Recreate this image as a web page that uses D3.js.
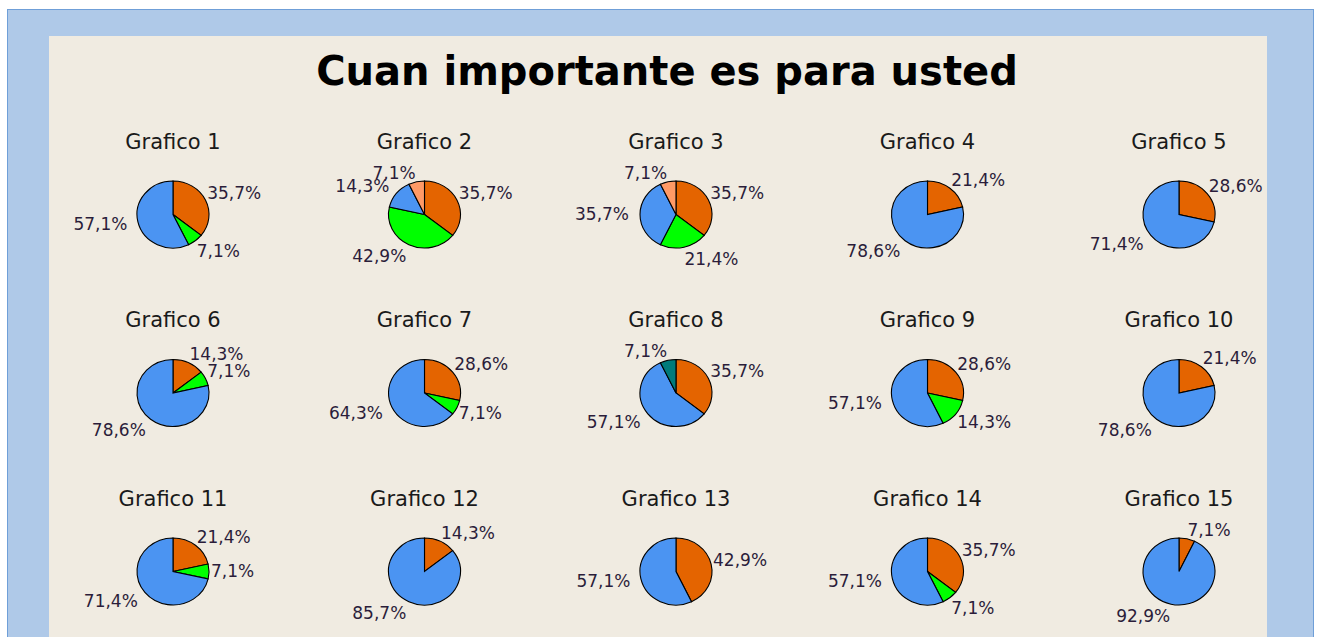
<!DOCTYPE html>
<html>
<head>
<meta charset="utf-8">
<title>Cuan importante es para usted</title>
<script src="https://d3js.org/d3.v7.min.js"></script>
<style>
  body { margin: 0; background: #fff; }
  svg { display: block; }
</style>
</head>
<body>
<svg class="chart"></svg>
<script>
// one entry per chart, values in % for each category
var titles = ["Grafico 1","Grafico 2","Grafico 3","Grafico 4","Grafico 5",
              "Grafico 6","Grafico 7","Grafico 8","Grafico 9","Grafico 10",
              "Grafico 11","Grafico 12","Grafico 13","Grafico 14","Grafico 15"];
var categories = ["A","B","C","D","E"];
var serieA = [35.7,35.7,35.7,21.4,28.6,14.3,28.6,35.7,28.6,21.4,21.4,14.3,42.9,35.7,7.1];
var serieB = [7.1,42.9,21.4,0,0,7.1,7.1,0,14.3,0,7.1,0,0,7.1,0];
var serieC = [57.1,14.3,35.7,78.6,71.4,78.6,64.3,57.1,57.1,78.6,71.4,85.7,57.1,57.1,92.9];
var serieD = [0,0,0,0,0,0,0,7.1,0,0,0,0,0,0,0];
var serieE = [0,7.1,7.1,0,0,0,0,0,0,0,0,0,0,0,0];
var mainTitle = "Cuan importante es para usted";

var W = 1319, H = 637;
var svg = d3.select(".chart").attr("width", W).attr("height", H);

// frame
svg.append("rect").attr("x", 7.5).attr("y", 9.5).attr("width", 1306).attr("height", 640)
  .attr("fill", "#afc9e8").attr("stroke", "#6f9fd8").attr("stroke-width", 1);
svg.append("rect").attr("x", 49).attr("y", 36).attr("width", 1218).attr("height", 620)
  .attr("fill", "#f0ebe1");

svg.append("text")
  .attr("x", 667).attr("y", 85)
  .attr("text-anchor", "middle")
  .style("font-family", "DejaVu Sans, sans-serif")
  .style("font-weight", "bold")
  .style("font-size", "40px")
  .attr("fill", "#000")
  .text(mainTitle);

var color = d3.scaleOrdinal()
  .domain(categories)
  .range(["#e46400", "#00ff00", "#4b94f2", "#007b7b", "#ff9a66"]);

var colX = d3.scalePoint().domain(d3.range(5)).range([173, 1179]);
var rowY = d3.scalePoint().domain(d3.range(3)).range([214.5, 571.5]);

var rx = 36, ry = 33.5;
var pie = d3.pie().sort(null).value(function(d){ return d.v; });
var arc = d3.arc().innerRadius(0).outerRadius(rx);

titles.forEach(function(t, i) {
  var data = categories.map(function(c, k) {
    return { c: c, v: [serieA, serieB, serieC, serieD, serieE][k][i] };
  });
  var cx = colX(i % 5), cy = rowY(Math.floor(i / 5));
  var g = svg.append("g").attr("transform", "translate(" + cx + "," + cy + ")");

  g.append("text")
    .attr("x", 0).attr("y", -66)
    .attr("text-anchor", "middle")
    .style("font-family", "DejaVu Sans, sans-serif")
    .style("font-size", "21px")
    .attr("fill", "#1a1a1a")
    .text(t);

  var arcs = pie(data).filter(function(d){ return d.data.v > 0; });

  g.append("g").attr("transform", "scale(1," + (ry / rx) + ")")
    .selectAll("path")
    .data(arcs)
    .enter().append("path")
    .attr("d", arc)
    .attr("fill", function(d){ return color(d.data.c); })
    .attr("stroke", "#000")
    .attr("stroke-width", 1.1)
    .attr("vector-effect", "non-scaling-stroke");

  g.selectAll(".lbl")
    .data(arcs)
    .enter().append("text")
    .attr("class", "lbl")
    .each(function(d) {
      var a = (d.startAngle + d.endAngle) / 2;
      var s = Math.sin(a), c = Math.cos(a);
      var x = s * (rx + 2) - (s < 0 ? 9 * s * s : 0), y = -c * (ry + 3);
      var dy = Math.max(0, Math.min(0.85, 0.3 - 0.7 * c));
      d3.select(this)
        .attr("x", x).attr("y", y).attr("dy", dy + "em")
        .attr("text-anchor", s >= 0 ? "start" : "end");
    })
    .style("font-family", "DejaVu Sans, sans-serif")
    .style("font-size", "17px")
    .attr("fill", "#2b1d3a")
    .text(function(d){ return d3.format(".1f")(d.data.v).replace(".", ",") + "%"; });
});
</script>
</body>
</html>
